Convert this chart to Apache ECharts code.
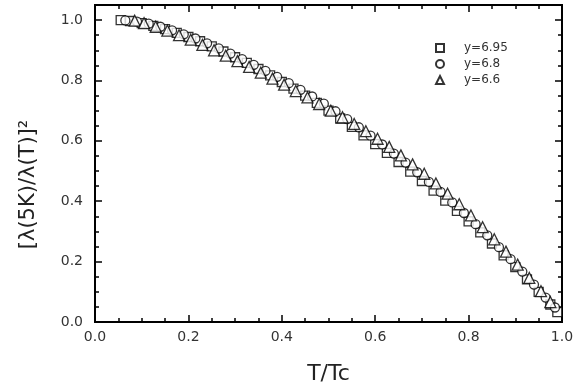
<!DOCTYPE html>
<html><head><meta charset="utf-8">
<script src="https://cdn.jsdelivr.net/npm/echarts@6/dist/echarts.min.js"></script>
<style>html,body{margin:0;padding:0;background:#fff}#c{width:584px;height:392px}</style>
</head><body><div id="c"></div>
<script>
const seriesNames = ['y=6.95', 'y=6.8', 'y=6.6'];
const xTickLabels = ['0.0', '0.2', '0.4', '0.6', '0.8', '1.0'];
const yTickLabels = ['0.0', '0.2', '0.4', '0.6', '0.8', '1.0'];

const sqX = [0.055,0.075,0.10,0.125,0.15,0.175,0.20,0.225,0.25,0.275,0.30,0.325,0.35,0.375,0.40,0.425,0.45,0.475,0.50,0.525,0.55,0.575,0.60,0.625,0.65,0.675,0.70,0.725,0.75,0.775,0.80,0.825,0.85,0.875,0.90,0.925,0.95,0.975,0.99];
const sqY = [1.000,0.997,0.990,0.981,0.970,0.958,0.944,0.930,0.913,0.896,0.877,0.858,0.838,0.817,0.795,0.773,0.750,0.726,0.700,0.674,0.646,0.618,0.589,0.560,0.530,0.498,0.467,0.435,0.402,0.368,0.333,0.297,0.260,0.221,0.182,0.141,0.100,0.058,0.033];

const ciX = [0.065,0.09,0.115,0.14,0.165,0.19,0.215,0.24,0.265,0.29,0.315,0.34,0.365,0.39,0.415,0.44,0.465,0.49,0.515,0.54,0.565,0.59,0.615,0.64,0.665,0.69,0.715,0.74,0.765,0.79,0.815,0.84,0.865,0.89,0.915,0.94,0.965,0.985];
const ciY = [0.999,0.995,0.988,0.978,0.966,0.953,0.939,0.923,0.906,0.889,0.871,0.852,0.832,0.812,0.791,0.769,0.747,0.723,0.698,0.672,0.645,0.617,0.588,0.558,0.528,0.496,0.464,0.431,0.396,0.361,0.324,0.287,0.248,0.208,0.167,0.124,0.081,0.048];

const trX = [0.085,0.105,0.13,0.155,0.18,0.205,0.23,0.255,0.28,0.305,0.33,0.355,0.38,0.405,0.43,0.455,0.48,0.505,0.53,0.555,0.58,0.605,0.63,0.655,0.68,0.705,0.73,0.755,0.78,0.805,0.83,0.855,0.88,0.905,0.93,0.955,0.975];
const trY = [0.998,0.990,0.978,0.965,0.950,0.935,0.918,0.900,0.882,0.864,0.845,0.826,0.806,0.786,0.765,0.744,0.722,0.700,0.678,0.656,0.632,0.607,0.580,0.552,0.522,0.491,0.459,0.425,0.390,0.353,0.314,0.274,0.233,0.190,0.146,0.102,0.066];

const pair = (xs, ys) => xs.map((x, i) => [x, ys[i]]);
const FONT = 'DejaVu Sans';
const lab = (labels) => (v) => { const s = v.toFixed(1); return labels.indexOf(s) >= 0 && Math.abs(v*5 - Math.round(v*5)) < 1e-6 ? s : ''; };

const lineStyle = { color: '#000', width: 2 };
function xAx(pos, showLabel) {
  return {
    type: 'value', position: pos, min: 0, max: 1, interval: 0.2,
    axisLine: { show: true, onZero: false, lineStyle },
    axisTick: { show: true, inside: true, length: 7, lineStyle: { color: '#000', width: 1.5 } },
    minorTick: { show: true, splitNumber: 4, length: 4, lineStyle: { color: '#000', width: 1.5 } },
    splitLine: { show: false }, minorSplitLine: { show: false },
    axisLabel: { show: showLabel, margin: 8, fontSize: 14, fontFamily: FONT, color: '#333', formatter: lab(xTickLabels) },
    name: showLabel ? 'T/Tc' : '', nameLocation: 'middle', nameGap: 41,
    nameTextStyle: { fontSize: 22, fontFamily: FONT, color: '#222' }
  };
}
function yAx(pos, showLabel, major) {
  return {
    type: 'value', position: pos, min: 0, max: 1.05, interval: major ? 0.2 : 0.05,
    axisLine: { show: true, onZero: false, lineStyle },
    axisTick: { show: true, inside: true, length: major ? 7 : 4, lineStyle: { color: '#000', width: 1.5 } },
    splitLine: { show: false },
    axisLabel: { show: showLabel, margin: 12, fontSize: 14, fontFamily: FONT, color: '#333', formatter: lab(yTickLabels) },
    name: showLabel ? '[λ(5K)/λ(T)]²' : '', nameLocation: 'middle', nameGap: 56,
    nameTextStyle: { fontSize: 21, fontFamily: FONT, color: '#222', padding: [0, 42, 0, 0] }
  };
}
const mk = { color: '#fff', borderColor: '#000', borderWidth: 1.3 };
const chart = echarts.init(document.getElementById('c'));
chart.setOption({
  animation: false,
  backgroundColor: '#fff',
  grid: { left: 95, right: 22, top: 5, bottom: 70, containLabel: false },
  xAxis: [xAx('bottom', true), xAx('top', false)],
  yAxis: [yAx('left', true, true), yAx('right', false, true), yAx('left', false, false), yAx('right', false, false)],
  legend: {
    orient: 'vertical', left: 430, top: 37, itemWidth: 8, itemHeight: 8, itemGap: 4,
    textStyle: { fontSize: 12, fontFamily: FONT, color: '#333', padding: [0, 0, 0, 15] },
    data: seriesNames
  },
  series: [
    { name: seriesNames[0], type: 'scatter', symbol: 'rect', symbolSize: 9, itemStyle: mk, data: pair(sqX, sqY) },
    { name: seriesNames[1], type: 'scatter', symbol: 'circle', symbolSize: 9, itemStyle: mk, data: pair(ciX, ciY) },
    { name: seriesNames[2], type: 'scatter', symbol: 'triangle', symbolSize: 11, itemStyle: mk, data: pair(trX, trY) }
  ]
});
</script></body></html>
